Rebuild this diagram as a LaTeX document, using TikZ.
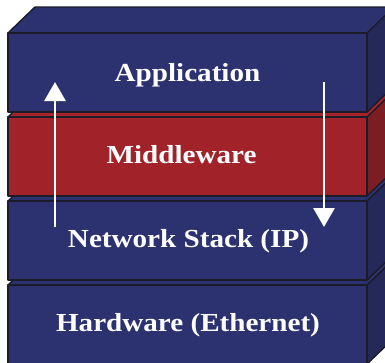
\documentclass[tikz,border=0pt]{standalone}
\usepackage{fontspec}
\setmainfont{Liberation Serif}
\usetikzlibrary{arrows.meta}
\definecolor{bfront}{RGB}{44,50,112}
\definecolor{btop}{RGB}{44,50,112}
\definecolor{bside}{RGB}{36,41,90}
\definecolor{rfront}{RGB}{162,34,42}
\definecolor{rtop}{RGB}{168,36,44}
\definecolor{rside}{RGB}{124,28,35}
\definecolor{edge}{RGB}{28,28,40}
\tikzset{
  face/.style={draw=edge, line width=1.4pt, line join=round},
  lbl/.style={text=white, font=\fontsize{26}{29}\selectfont\bfseries, xscale=1.12, anchor=base},
  flow/.style={draw=white, line width=2.8pt, -{Triangle[width=21pt,length=19pt]}}
}
% #1 top y, #2 front colour, #3 top colour, #4 side colour
\newcommand{\layerbox}[4]{%
  \fill[#3] (8,#1) -- (35,#1-26) -- (394,#1-26) -- (367,#1) -- cycle;
  \fill[#4] (367,#1) -- (394,#1-26) -- (394,#1+79-26) -- (367,#1+79) -- cycle;
  \fill[#2] (8,#1) rectangle (367,#1+79);
  \draw[face] (8,#1) -- (35,#1-26) -- (394,#1-26);
  \draw[face] (367,#1) -- (394,#1-26);
  \draw[face] (8,#1) rectangle (367,#1+79);
  \draw[face] (367,#1+79) -- (394,#1+79-26);
}
\begin{document}
\begin{tikzpicture}[x=1pt,y=-1pt]
\useasboundingbox (0,0) rectangle (385,362);
\begin{scope}
\clip (0,0) rectangle (385,362);
\layerbox{285}{bfront}{btop}{bside}
\layerbox{201}{bfront}{btop}{bside}
\layerbox{117}{rfront}{rtop}{rside}
\layerbox{33}{bfront}{btop}{bside}
\end{scope}
\node[lbl] (app) at (187.5,81) {Application};
\node[lbl] (mid) at (181.5,163) {Middleware};
\node[lbl] (net) at (188.5,247) {Network Stack (IP)};
\node[lbl] (hw) at (188,331) {Hardware (Ethernet)};
\coordinate (upS) at (55,227);
\coordinate (upE) at (55,82);
\coordinate (dnS) at (324,82);
\coordinate (dnE) at (324,227);
\draw[flow] (upS) -- (upE);
\draw[flow] (dnS) -- (dnE);
\end{tikzpicture}
\end{document}
